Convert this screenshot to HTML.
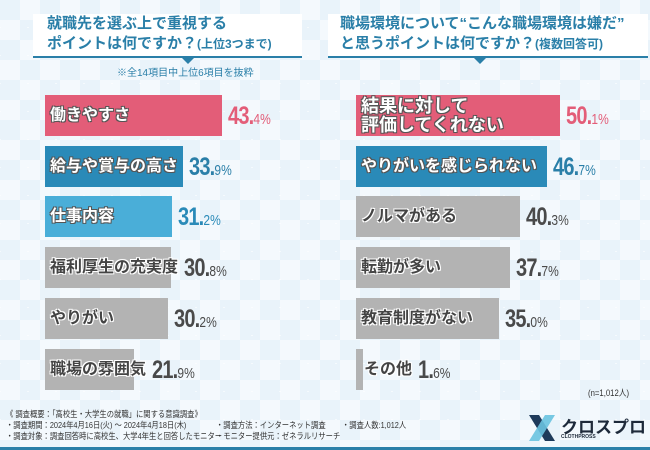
<!DOCTYPE html>
<html><head><meta charset="utf-8">
<style>
body{margin:0;}
#root{position:relative;width:650px;height:450px;overflow:hidden;font-family:"Liberation Sans","Noto Sans CJK JP",sans-serif;
background-color:#e9f3fa;
background-image:linear-gradient(45deg,rgba(255,255,255,.75) 1px,transparent 1px),linear-gradient(-45deg,rgba(255,255,255,.75) 1px,transparent 1px),
linear-gradient(45deg,#f4f9fd 25%,transparent 25%,transparent 75%,#f4f9fd 75%),linear-gradient(45deg,#f4f9fd 25%,transparent 25%,transparent 75%,#f4f9fd 75%);
background-size:28px 28px,28px 28px,40px 40px,40px 40px;background-position:0 0,0 0,0 0,20px 20px;}
.title{position:absolute;background:#fff;color:#2a7fa8;font-weight:bold;font-size:15px;line-height:20px;border-bottom:2px solid #2a7fa8;}
.title .tri{position:absolute;bottom:-8px;width:0;height:0;border-left:7px solid transparent;border-right:7px solid transparent;border-top:7px solid #2a7fa8;}
.bar{position:absolute;height:41px;}
.lbl{position:absolute;font-weight:bold;font-size:16px;white-space:nowrap;line-height:19px;}
.lbl.w{color:#fff;text-shadow:-1px -1px 0 #555,1px -1px 0 #555,-1px 1px 0 #555,1px 1px 0 #555;}
.lbl.d{color:#444;text-shadow:-1px -1px 0 #fff,1px -1px 0 #fff,-1px 1px 0 #fff,1px 1px 0 #fff;}
.val{position:absolute;font-size:25px;font-weight:bold;white-space:nowrap;letter-spacing:-1px;transform:scaleX(0.8);transform-origin:left top;}
.val small{font-size:15px;font-weight:normal;letter-spacing:0}
.foot{position:absolute;font-size:8.5px;color:#333;line-height:11px;white-space:nowrap;transform:scaleX(0.86);transform-origin:left top;}
</style></head><body>
<div id="root">
<div class="title" style="left:33px;top:14px;width:255px;height:42px;padding-left:14px;">就職先を選ぶ上で重視する<br>ポイントは何ですか？<span style="font-size:12px">(上位3つまで)</span><div class="tri" style="left:148px"></div></div>
<div class="title" style="left:328px;top:14px;width:308px;height:42px;padding-left:12px;">職場環境について“こんな職場環境は嫌だ”<br>と思うポイントは何ですか？<span style="font-size:12px">(複数回答可)</span><div class="tri" style="left:145px"></div></div>
<div class="foot" style="left:117px;top:68px;font-size:10px;color:#2a7fa8;transform:none">※全14項目中上位6項目を抜粋</div>
<div class="foot" style="left:588px;top:388px;font-size:9px">(n=1,012人)</div>
<div class="foot" style="left:6px;top:409px">《 調査概要：「高校生・大学生の就職」に関する意識調査》<br>・調査期間：2024年4月16日(火) ～ 2024年4月18日(木)<br>・調査対象：調査回答時に高校生、大学4年生と回答したモニター</div>
<div class="foot" style="left:216px;top:420px">・調査方法：インターネット調査<br>・モニター提供元：ゼネラルリサーチ</div>
<div class="foot" style="left:342px;top:420px">・調査人数:1,012人</div>
<div style="position:absolute;left:527px;top:413px;width:120px;height:30px;">
<svg width="30" height="30"><path d="M2 2 L12 2 L28 28 L18 28Z" fill="#1e3a5a"/><path d="M18 2 L28 2 L12 28 L2 28Z" fill="#6ac3e0" opacity=".9"/></svg>
<span style="position:absolute;left:34px;top:0;font-weight:bold;font-size:17px;color:#1e2a3a">クロスプロ</span>
<span style="position:absolute;left:34px;top:21px;font-size:5px;font-weight:bold;color:#1e2a3a">CLOTHPROSS</span></div>
<div style="position:absolute;left:0;top:447px;width:650px;height:3px;background:#2a7fa8"></div>
</div>
<script>
const leftCats=["働きやすさ","給与や賞与の高さ","仕事内容","福利厚生の充実度","やりがい","職場の雰囲気"];
const leftVals=[43.4,33.9,31.2,30.8,30.2,21.9];
const rightCats=["結果に対して\n評価してくれない","やりがいを感じられない","ノルマがある","転勤が多い","教育制度がない","その他"];
const rightVals=[50.1,46.7,40.3,37.7,35.0,1.6];
const colorsL=["#e35d78","#2a8ab8","#4aaed8","#b3b3b3","#b3b3b3","#b3b3b3"];
const colorsR=["#e35d78","#2a8ab8","#b3b3b3","#b3b3b3","#b3b3b3","#b3b3b3"];
const valColors={"#e35d78":"#e35d78","#2a8ab8":"#2a7fa8","#4aaed8":"#2a8ab8","#b3b3b3":"#4a4a4a"};
const root=document.getElementById('root');
const scale=4.08;
function xw(v){return v*scale;}
function yPos(i){return 95+i*50.7;}
function drawSide(cats,vals,cols,x0,side){
  for(let i=0;i<cats.length;i++){
    const y=yPos(i),w=xw(vals[i]);
    const b=document.createElement('div');b.className='bar';
    
    
    b.style.left=x0+'px';b.style.top=y+'px';b.style.width=Math.max(w,4)+'px';b.style.background=cols[i];
    root.appendChild(b);
    const l=document.createElement('div');
    l.className='lbl '+(cols[i]==="#b3b3b3"?'d':'w');
    
    
    const two=cats[i].includes('\n');
    l.innerHTML=cats[i].replace('\n','<br>');
    l.style.left=(x0+(w<10?8:5))+'px';l.style.top=(y+(two?2:11))+'px';
    if(two){l.style.fontSize='18px';l.style.lineHeight='19px';}
    root.appendChild(l);
    const lw=l.offsetWidth;
    const v=document.createElement('div');v.className='val';
    
    
    const s=vals[i].toFixed(1).split('.');
    v.innerHTML=s[0]+'.<small>'+s[1]+'%</small>';
    v.style.color=valColors[cols[i]];
    const lx=Math.max(x0+w,x0+(w<10?8:5)+lw)+6;
    v.style.left=lx+'px';v.style.top=(y+7)+'px';
    root.appendChild(v);
  }
}
drawSide(leftCats,leftVals,colorsL,45,'left');
drawSide(rightCats,rightVals,colorsR,356,'right');
</script>
</body></html>
